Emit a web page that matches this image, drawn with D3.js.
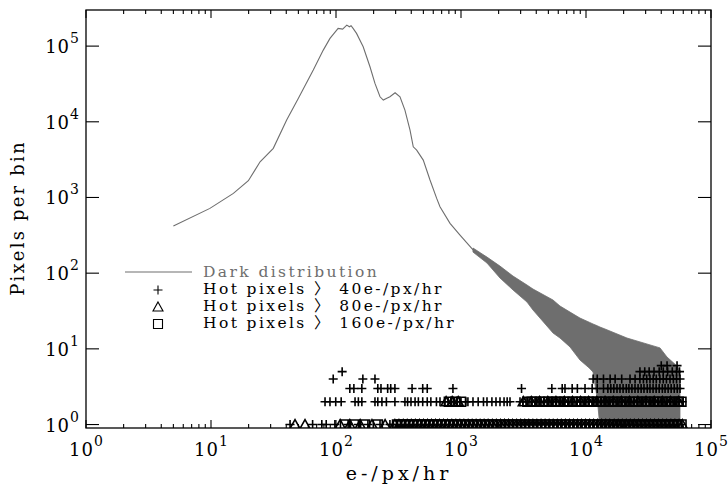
<!DOCTYPE html>
<html>
<head>
<meta charset="utf-8">
<script src="https://cdn.jsdelivr.net/npm/d3@7"></script>
<style>
body { margin: 0; background: #fff; }
text { font-family: "DejaVu Serif", "Noto Sans CJK JP", serif; fill: #000; }
</style>
</head>
<body>
<div id="chart"></div>
<script>
// Dark distribution, smooth part (e-/px/hr -> pixels per bin)
var darkX = [5, 9.8, 15.1, 19.9, 24.7, 31.5, 40.3, 49.9, 65.8, 79.1, 89.5, 104, 113, 122, 128, 132, 137, 146, 165, 187, 205, 225, 239, 255, 270, 297, 325, 356, 391, 415, 442, 499, 565, 639, 679, 817, 982, 1254];
var darkY = [419, 718, 1133, 1665, 2965, 4457, 10540, 20380, 48200, 88560, 126500, 171500, 168000, 189600, 180000, 186000, 171500, 147300, 97950, 53330, 32150, 21400, 19370, 20500, 21400, 24180, 21400, 14290, 7780, 4677, 4230, 3120, 1700, 973, 754, 455, 319, 202];

// Dark distribution, noisy part: envelope of the scatter (0 = empty bins)
var bandX  = [1247, 1614, 2051, 2606, 3373, 3767, 5445, 6194, 7447, 8954, 10600, 11380, 12300, 12940, 14190, 21280, 39080, 44460, 53460, 56490];
var bandHi = [215, 163, 124, 91.6, 69.7, 61.7, 44.2, 36.8, 30.6, 25.5, 22.5, 21.3, 20.2, 19.4, 18.3, 13.9, 10.3, 7.8, 5.93, 5.25];
var bandLo = [190, 136, 86.3, 60, 41.5, 32.6, 16.2, 13.9, 10.6, 7.1, 5.6, 4.94, 2.2, 0, 0, 0, 0, 0, 0, 0];

// Hot pixels > 40 e-/px/hr, x positions grouped by count per bin
var plus6 = [40000, 44500, 53500];
var plus5 = [112, 27000, 29500, 32000, 35000, 38500, 41500, 45000, 49000, 53000, 56000];
var plus4 = [95, 164, 205, 11400, 12300, 13800, 15600, 17100, 19300, 22500, 24700, 27000, 28800, 30600, 32500, 34500, 36500, 39000, 41500, 44000, 47000, 50000, 53000, 56500];
var plus3 = [129, 139, 161, 216, 229, 259, 274, 296, 406, 494, 537, 862, 3050, 5330, 6450, 6790, 7750, 8530, 9820, 11200, 12300, 13800, 14960, 15800, 16700, 17700, 18700, 19800, 21000, 22050, 23300, 24660, 26100, 27600, 29100, 30900, 32500, 34400, 36400, 38500, 40800, 42900, 45400, 48000, 50800, 53700, 56500];
var plus2 = [81.7, 89.5, 99.5, 110, 142, 151, 161, 205, 216, 233, 253, 296, 356, 374, 398, 429, 456, 494, 537, 574, 636, 679, 745, 789, 837, 885, 935, 1000, 1093, 1136, 1247, 1372, 1513, 1614, 1767, 1905, 2051, 2210, 2340, 2466, 2965, 3126, 3310, 3500, 3700, 3908, 4130, 4370, 4620, 4880, 5152, 5445, 5760, 6080, 6450, 6790, 7180, 7590, 8020, 8480, 8954, 9470, 10000, 10570, 11180, 11800, 12480, 13200, 13930, 14730, 15560, 16450, 17390, 18380, 19430, 20510, 21690, 22920, 24230, 25600, 27040, 28590, 30220, 31940, 33760, 35650, 37700, 39850, 42120, 44520, 47000, 49700, 52550, 55550, 58700];
var plus1 = [42.9, 65, 77, 83.5, 98, 125, 151, 180, 225, 270, 286, 310, 330, 355, 385, 415, 445, 480, 515, 555, 600, 645, 690, 745, 800, 865, 930, 1000, 1080, 1160, 1250, 1350, 1450, 1560, 1680, 1810, 1940, 2090, 2250, 2430, 2610, 2810, 3030, 3260, 3510, 3780, 4060, 4380, 4710, 5070, 5460, 5880, 6330, 6810, 7330, 7890, 8500, 9150, 9850, 10600, 11400, 12300, 13200, 14200, 15300, 16500, 17800, 19100, 20600, 22200, 23900, 25700, 27600, 29800, 32000, 34500, 37100, 40000, 43000, 46300, 49900, 53700, 57800];

// Hot pixels > 80 e-/px/hr
var tri2 = [760, 850, 950, 3150, 3650, 4250, 4950, 5750, 6700, 7800, 9050, 10500, 12200, 14200, 16500, 19200, 22300, 26000, 30200, 35100, 40800, 47400, 55100];
var tri1 = [47, 56.5, 108, 129, 156, 194, 247, 296, 319, 345, 371, 400, 431, 465, 501, 540, 581, 625, 673, 725, 781, 845, 910, 980, 1055, 1140, 1227, 1320, 1421, 1530, 1647, 1780, 1916, 2070, 2229, 2400, 2584, 2790, 3004, 3240, 3488, 3760, 4048, 4370, 4705, 5070, 5458, 5890, 6341, 6840, 7364, 7940, 8548, 9220, 9926, 10700, 11520, 12400, 13350, 14400, 15500, 16800, 18090, 19500, 20990, 22600, 24330, 26300, 28310, 30500, 32840, 35400, 38110, 41100, 44250, 47800, 51460, 55500, 59000];

// Hot pixels > 160 e-/px/hr
var sq2 = [800, 900, 1000, 3400, 3680, 3950, 4280, 4600, 4980, 5350, 5780, 6200, 6720, 7200, 7820, 8400, 9080, 9750, 10540, 11300, 12250, 13200, 14250, 15300, 16550, 17800, 19250, 20700, 22350, 24000, 26050, 27900, 30250, 32500, 35150, 37800, 40850, 43900, 47450, 51000, 55150, 58000];
var sq1 = [118, 142, 171, 216, 308, 332, 357, 384, 414, 446, 480, 517, 556, 599, 645, 694, 747, 804, 866, 932, 1004, 1081, 1164, 1253, 1349, 1452, 1563, 1683, 1812, 1951, 2100, 2261, 2434, 2620, 2821, 3037, 3270, 3520, 3790, 4080, 4393, 4730, 5091, 5481, 5901, 6353, 6840, 7364, 7927, 8534, 9188, 9892, 10650, 11470, 12340, 13290, 14300, 15400, 16580, 17850, 19220, 20690, 22270, 23980, 25810, 27790, 29920, 32210, 34680, 37340, 40190, 43270, 46580, 50150, 53990, 58100];

var legendLabels = ['Dark distribution', 'Hot pixels \u3009 40e-/px/hr', 'Hot pixels \u3009 80e-/px/hr', 'Hot pixels \u3009 160e-/px/hr'];

var w = 728, h = 489;
var pL = 86, pR = 711, pT = 10, pB = 428;
var grey = '#6e6e6e';

var svg = d3.select('#chart').append('svg')
    .attr('width', w)
    .attr('height', h)
;

var x = d3.scaleLog().domain([1, 1e5]).range([pL, pR]);
var y = d3.scaleLog().domain([0.9, 3e5]).range([pB, pT]);
var yMin = y.domain()[0];

svg.append('clipPath').attr('id', 'plotclip')
    .append('rect')
    .attr('x', pL).attr('y', pT)
    .attr('width', pR - pL).attr('height', pB - pT);

var plot = svg.append('g').attr('clip-path', 'url(#plotclip)');

// noisy band
var band = d3.range(bandX.length).map(function (i) {
    return {x: bandX[i], hi: bandHi[i], lo: bandLo[i]};
});
plot.append('path')
    .datum(band)
    .attr('fill', grey)
    .attr('stroke', grey)
    .attr('stroke-width', 0.8)
    .attr('d', d3.area()
        .x(function (d) { return x(d.x); })
        .y0(function (d) { return y(Math.max(d.lo, yMin)); })
        .y1(function (d) { return y(d.hi); })
    );

// smooth line
plot.append('path')
    .datum(d3.zip(darkX, darkY))
    .attr('fill', 'none')
    .attr('stroke', grey)
    .attr('stroke-width', 1.1)
    .attr('d', d3.line()
        .x(function (d) { return x(d[0]); })
        .y(function (d) { return y(d[1]); })
    );

// hot pixel markers
var symbolPath = {
    plus: 'M-4.5,0H4.5M0,-4.5V4.5',
    tri: 'M0,-5L5,4L-5,4Z',
    sq: 'M-4.5,-4.5H4.5V4.5H-4.5Z'
};
var sets = [
    ['plus', 1, plus1], ['plus', 2, plus2], ['plus', 3, plus3],
    ['plus', 4, plus4], ['plus', 5, plus5], ['plus', 6, plus6],
    ['tri', 1, tri1], ['tri', 2, tri2],
    ['sq', 1, sq1], ['sq', 2, sq2]
];
var points = [];
sets.forEach(function (s) {
    s[2].forEach(function (v) { points.push({sym: s[0], n: s[1], x: v}); });
});
plot.selectAll('path.mk')
    .data(points)
    .enter()
    .append('path')
    .attr('class', 'mk')
    .attr('transform', function (d) { return 'translate(' + x(d.x) + ',' + y(d.n) + ')'; })
    .attr('d', function (d) { return symbolPath[d.sym]; })
    .attr('fill', 'none')
    .attr('stroke', '#000')
    .attr('stroke-width', 1.6)
;

// frame
svg.append('rect')
    .attr('x', pL).attr('y', pT)
    .attr('width', pR - pL).attr('height', pB - pT)
    .attr('fill', 'none')
    .attr('stroke', '#000')
    .attr('stroke-width', 1.3)
;

function isMajor(v) {
    var l = Math.log10(v);
    return Math.abs(l - Math.round(l)) < 1e-9;
}

// x ticks (bottom and top, inward)
var xt = x.ticks();
var axes = svg.append('g').attr('stroke', '#000').attr('stroke-width', 1.1);
xt.forEach(function (v) {
    var len = isMajor(v) ? 8 : 4;
    axes.append('line').attr('x1', x(v)).attr('x2', x(v)).attr('y1', pB).attr('y2', pB - len);
    axes.append('line').attr('x1', x(v)).attr('x2', x(v)).attr('y1', pT).attr('y2', pT + len);
});
var yt = y.ticks().filter(isMajor);
yt.forEach(function (v) {
    axes.append('line').attr('x1', pL).attr('x2', pL + 13).attr('y1', y(v)).attr('y2', y(v));
    axes.append('line').attr('x1', pR).attr('x2', pR - 13).attr('y1', y(v)).attr('y2', y(v));
});

// tick labels
xt.filter(isMajor).forEach(function (v) {
    var t = svg.append('text')
        .attr('x', x(v)).attr('y', 456)
        .attr('text-anchor', 'middle')
        .attr('font-size', '18px');
    t.append('tspan').attr('letter-spacing', '1px').text('10');
    t.append('tspan').attr('dy', -10).attr('font-size', '14px').text(Math.round(Math.log10(v)));
});
yt.forEach(function (v) {
    var t = svg.append('text')
        .attr('x', 79).attr('y', y(v) + 7)
        .attr('text-anchor', 'end')
        .attr('font-size', '18px');
    t.append('tspan').attr('letter-spacing', '1px').text('10');
    t.append('tspan').attr('dy', -10).attr('font-size', '14px').text(Math.round(Math.log10(v)));
});

// axis titles
svg.append('text')
    .attr('x', 399).attr('y', 480)
    .attr('text-anchor', 'middle')
    .attr('font-size', '19px')
    .attr('letter-spacing', '4px')
    .text('e-/px/hr');
svg.append('text')
    .attr('transform', 'translate(24,218) rotate(-90)')
    .attr('text-anchor', 'middle')
    .attr('font-size', '18px')
    .attr('letter-spacing', '2.2px')
    .text('Pixels per bin');

// legend
var lg = svg.append('g');
lg.append('line')
    .attr('x1', 125).attr('x2', 192).attr('y1', 272).attr('y2', 272)
    .attr('stroke', grey).attr('stroke-width', 1.1);
var legSyms = ['plus', 'tri', 'sq'];
legSyms.forEach(function (s, i) {
    lg.append('path')
        .attr('transform', 'translate(158,' + (290 + i * 17) + ')')
        .attr('d', symbolPath[s])
        .attr('fill', 'none')
        .attr('stroke', '#000')
        .attr('stroke-width', 1.1);
});
lg.selectAll('text')
    .data(legendLabels)
    .enter()
    .append('text')
    .attr('x', 203)
    .attr('y', function (d, i) { return 277 + i * 17; })
    .attr('font-size', '15.5px')
    .attr('letter-spacing', '2.4px')
    .style('fill', function (d, i) { return i === 0 ? grey : '#000'; })
    .text(function (d) { return d; });
</script>
</body>
</html>
